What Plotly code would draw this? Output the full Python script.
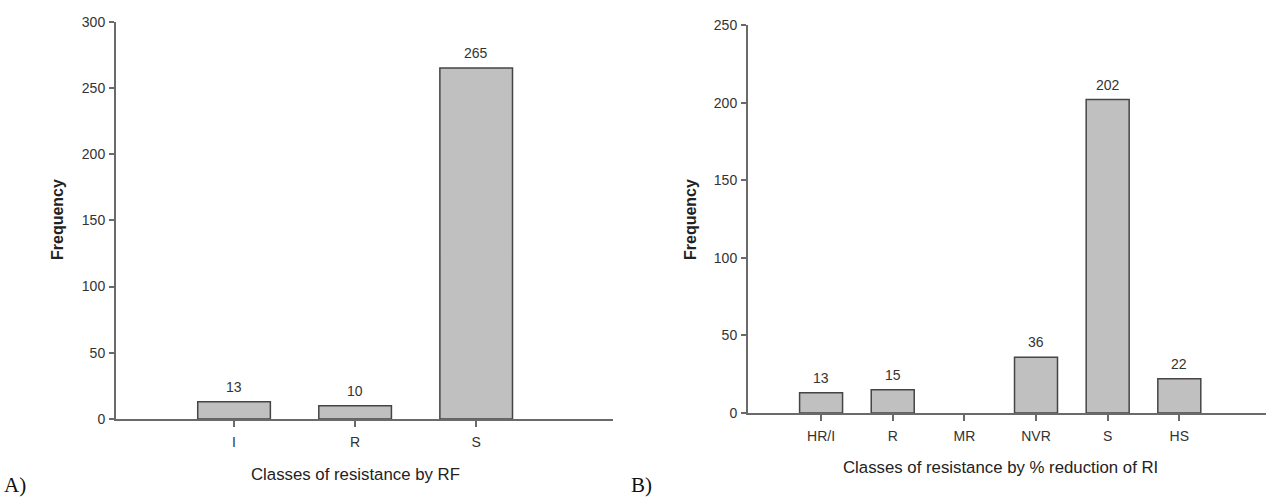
import plotly.graph_objects as go

W, H = 1266, 497

cats_a = ["I", "R", "S"]
vals_a = [13, 10, 265]
cats_b = ["HR/I", "R", "MR", "NVR", "S", "HS"]
vals_b = [13, 15, 0, 36, 202, 22]

title_a_x = "Classes of resistance by RF"
title_b_x = "Classes of resistance by % reduction of RI"
title_y = "Frequency"

FONT = "Liberation Sans, Arial, sans-serif"
AX = "#6a6a6a"
TXT = "#333333"

def px(x):
    return x / W

def py(y):
    return 1 - y / H

fig = go.Figure()
for vals, xa, ya in ((vals_a, "x", "y"), (vals_b, "x2", "y2")):
    fig.add_trace(go.Bar(
        x=list(range(len(vals))), y=vals, width=0.6,
        marker=dict(color="#c0c0c0",
                    line=dict(color="#454545", width=[1.5 if v else 0 for v in vals])),
        xaxis=xa, yaxis=ya, showlegend=False, hoverinfo="x+y"))
    for i, v in enumerate(vals):
        if v:
            fig.add_annotation(x=i, y=v, xref=xa, yref=ya, text=str(v), showarrow=False,
                               xanchor="center", yanchor="middle", yshift=15,
                               font=dict(family=FONT, size=14, color=TXT))

axcommon = dict(showgrid=False, zeroline=False, showline=True, linecolor=AX, linewidth=2,
                ticks="outside", tickcolor=AX, tickwidth=1.5, automargin=False,
                tickfont=dict(family=FONT, size=14, color=TXT))

fig.update_layout(
    width=W, height=H, margin=dict(l=0, r=0, t=0, b=0, pad=0, autoexpand=False),
    paper_bgcolor="white", plot_bgcolor="white", bargap=0.4,
    xaxis=dict(domain=[px(116), px(613)], anchor="y", range=[-0.975, 3.13],
               tickmode="array", tickvals=list(range(len(cats_a))), ticktext=cats_a,
               ticklen=6, ticklabelstandoff=3, **axcommon),
    yaxis=dict(domain=[py(419), py(21.7)], anchor="x", range=[0, 300],
               tickmode="array", tickvals=[0, 50, 100, 150, 200, 250, 300],
               ticklen=5, ticklabelstandoff=1, **axcommon),
    xaxis2=dict(domain=[px(748), px(1266)], anchor="y2", range=[-1.02, 6.21],
                tickmode="array", tickvals=list(range(len(cats_b))), ticktext=cats_b,
                ticklen=6, ticklabelstandoff=3, **axcommon),
    yaxis2=dict(domain=[py(413), py(25)], anchor="x2", range=[0, 250],
                tickmode="array", tickvals=[0, 50, 100, 150, 200, 250],
                ticklen=5, ticklabelstandoff=1, **axcommon),
)

for text, xx, yy in ((title_a_x, 355, 474), (title_b_x, 1000, 467)):
    fig.add_annotation(text=text, x=px(xx), y=py(yy), xref="paper", yref="paper",
                       showarrow=False, xanchor="center", yanchor="middle",
                       font=dict(family=FONT, size=16.8, color="#222222"))
for xx in (57, 690):
    fig.add_annotation(text="<b>" + title_y + "</b>", x=px(xx), y=py(220), xref="paper", yref="paper",
                       showarrow=False, textangle=-90, xanchor="center", yanchor="middle",
                       font=dict(family=FONT, size=16, color="#222222"))
for lab, xx in (("A)", 2), ("B)", 629)):
    fig.add_annotation(text=lab, x=px(xx), y=py(485), xref="paper", yref="paper",
                       showarrow=False, xanchor="left", yanchor="middle",
                       font=dict(family="Liberation Serif, Times New Roman, serif", size=21, color="#111111"))

fig.write_html("out.html")
